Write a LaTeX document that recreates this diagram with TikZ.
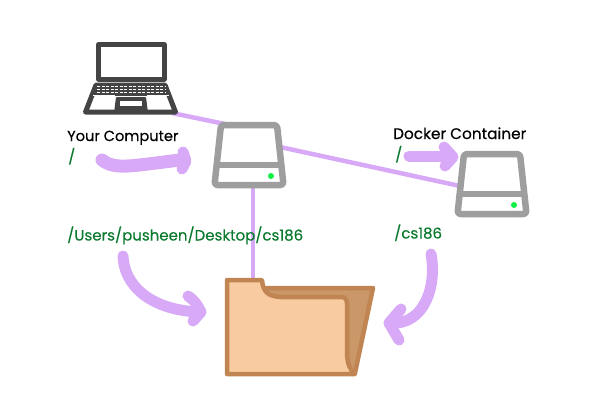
\documentclass[tikz,border=0pt]{standalone}
\usepackage{fontspec}
\setmainfont{Poppins}[FakeBold=0.35]
\usetikzlibrary{calc}
\definecolor{linkpurple}{HTML}{D7A9F7}
\definecolor{pathgreen}{HTML}{0B7A2F}
\definecolor{drivegray}{HTML}{9E9E9E}
\definecolor{laptopgray}{HTML}{444444}
\definecolor{foldertan}{HTML}{C08552}
\definecolor{folderback}{HTML}{C99768}
\definecolor{folderfront}{HTML}{F8CBA0}
\definecolor{ledgreen}{HTML}{11EE44}
\newcommand{\harddrive}[1]{%
 \draw[driveline,fill=white,rounded corners=3pt] ($(#1)+(-28,-30)$) -- ($(#1)+(28,-30)$) -- ($(#1)+(34.5,30)$) -- ($(#1)+(-34.5,30)$) -- cycle;
 \draw[driveline] ($(#1)+(-32,10)$) -- ($(#1)+(32,10)$);
 \fill[ledgreen] ($(#1)+(22,21)$) circle (3);
}
\begin{document}
\begin{tikzpicture}[x=1pt,y=-1pt,
 link/.style={draw=linkpurple,line width=4.5pt},
 sweep/.style={draw=linkpurple,line width=11pt,line cap=round,line join=round},
 driveline/.style={draw=drivegray,line width=6.5pt,line join=round},
 laptopline/.style={draw=laptopgray,line join=round},
 caption/.style={font=\fontsize{15}{16}\selectfont,anchor=base west,inner sep=0pt,text=black},
 pathname/.style={caption,text=pathgreen}]
\useasboundingbox (0,0) rectangle (600,400);
\coordinate (laptop) at (172,113);
\coordinate (hostdrive) at (249,155);
\coordinate (hostwest) at (225,124);
\coordinate (hosteast) at (280,147);
\coordinate (hostsouth) at (253,185);
\coordinate (dockerdrive) at (492,184);
\coordinate (dockerwest) at (460,186);
\coordinate (folder) at (253,282);
% links behind the icons
\draw[link] (laptop) -- (hostwest);
\draw[link] (hosteast) -- (dockerwest);
\draw[link] (hostsouth) -- (folder);
% laptop
\draw[laptopline,line width=5pt,fill=white] (98.5,44.5) rectangle (164,79);
\draw[laptopline,line width=5pt,fill=white] (96,85) -- (165,85) -- (175.5,112) -- (85.5,112) -- cycle;
\fill[laptopgray] (94,85) rectangle (167,96);
\foreach \y in {86.5,89.5,92.5}
 \draw[white,line width=1.2pt,dash pattern=on 3pt off 1.5pt] (97,\y) -- (166,\y);
\draw[white,line width=1.6pt] (93,95.5) -- (115,95.5) (147,95.5) -- (169,95.5);
\fill[laptopgray,rounded corners=1pt] (116,97) -- (146,97) -- (148,113) -- (114,113) -- cycle;
\fill[white] (120,101) rectangle (142,106);
% drives
\harddrive{hostdrive}
\harddrive{dockerdrive}
% folder
\filldraw[draw=foldertan,fill=folderback,line width=4.5pt,line join=round] (263,288) -- (373,288) -- (355,373) -- (330,373) -- cycle;
\filldraw[draw=foldertan,fill=folderfront,line width=4.5pt,line join=round]
 (227,280) -- (262,280) .. controls (263,292) and (268,296) .. (280,297) -- (341,297)
 .. controls (345,297) and (347,299) .. (347,304) -- (347,355)
 .. controls (348,365) and (350,370) .. (355,374) -- (227,374) -- cycle;
% arrows
\draw[sweep,line width=13pt] (102,160) .. controls (115,170) and (130,166) .. (180,160);
\draw[sweep] (183,152) -- (186,161) -- (182,169);
\draw[sweep] (409,156) -- (452,156);
\draw[sweep] (444,147) -- (453,157) -- (445,166);
\draw[sweep] (123,256) .. controls (124,285) and (150,310) .. (199,312);
\draw[sweep] (188,296) .. controls (193,299) and (197,304) .. (201,312) -- (193,321);
\draw[sweep] (431,254) .. controls (437,285) and (425,325) .. (391,323);
\draw[sweep] (401,309) -- (389,323) -- (399,340);
% labels
\node[caption,font=\fontsize{14.6}{16}\selectfont] (yourcomputer) at (67,141) {Your Computer};
\node[pathname] (hostroot) at (68,162) {/};
\node[pathname] (hostpath) at (67,240.5) {/Users/pusheen/Desktop/cs186};
\node[caption,font=\fontsize{15.3}{16}\selectfont] (dockername) at (393,139) {Docker Container};
\node[pathname] (dockerroot) at (395,160) {/};
\node[pathname] (dockerpath) at (394,238.5) {/cs186};
\end{tikzpicture}
\end{document}
